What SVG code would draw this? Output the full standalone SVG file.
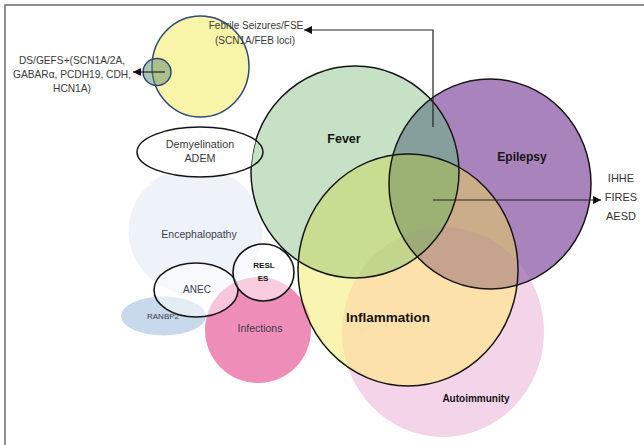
<svg xmlns="http://www.w3.org/2000/svg" width="644" height="445" viewBox="0 0 644 445">
<style>
text{font-family:"Liberation Sans",Arial,sans-serif;text-anchor:middle;fill:#3a3a3a}
.big{font-weight:bold;fill:#151515}
.ol{fill:none;stroke:#151515;stroke-width:1.5}
.conn{fill:none;stroke:#222;stroke-width:1.2}
</style>
<defs>
<marker id="ah" markerUnits="userSpaceOnUse" markerWidth="9" markerHeight="8" refX="8" refY="4" orient="auto">
<path d="M0,0 L8,4 L0,8 z" fill="#111"/>
</marker>
<clipPath id="cF"><ellipse cx="355" cy="172" rx="104" ry="106"/></clipPath>
<clipPath id="cE"><ellipse cx="490" cy="184" rx="101" ry="105"/></clipPath>
<clipPath id="cI"><ellipse cx="408" cy="270" rx="110" ry="116"/></clipPath>
<mask id="notF" maskUnits="userSpaceOnUse" x="0" y="0" width="644" height="445">
<rect x="0" y="0" width="644" height="445" fill="#fff"/>
<ellipse cx="355" cy="172" rx="104" ry="106" fill="#000"/>
</mask>
</defs>

<path d="M5,445 V5 H644" fill="none" stroke="#6a6a6a" stroke-width="1.5"/>

<g id="febrile-seizures">
<ellipse cx="200.5" cy="66.5" rx="48.5" ry="50.5" fill="#f8f4a8" stroke="#2e4a7a" stroke-width="1.5"/>
<text x="256" y="29" font-size="10">Febrile Seizures/FSE</text>
<text x="255" y="44" font-size="10">(SCN1A/FEB loci)</text>
</g>

<g id="ds-gefs">
<ellipse cx="157" cy="72" rx="14" ry="13.5" fill="#5f8c6e" fill-opacity="0.5" stroke="#2e4a7a" stroke-width="1.5"/>
<text x="72" y="64" font-size="10.2">DS/GEFS+(SCN1A/2A,</text>
<text x="72" y="78" font-size="10.2">GABARα, PCDH19, CDH,</text>
<text x="72" y="92" font-size="10.2">HCN1A)</text>
</g>

<g id="encephalopathy">
<ellipse cx="195.5" cy="231" rx="67" ry="64" fill="#eef2f9"/>
<text x="199" y="238" font-size="10.5" style="fill:#3c3c4c">Encephalopathy</text>
</g>

<g id="ranbp2">
<ellipse cx="163.5" cy="316" rx="42.5" ry="19.5" fill="#c9d9ec"/>
<text x="163" y="319" font-size="8" style="fill:#3c3c4c">RANBP2</text>
</g>

<g id="infections">
<circle cx="258" cy="330" r="53" fill="#ef8db9"/>
<text x="260" y="332" font-size="10.5" style="fill:#3c3c4c">Infections</text>
</g>

<g id="autoimmunity">
<ellipse cx="443" cy="332" rx="101" ry="105" fill="#f3d4e8"/>
<text x="476" y="402" font-size="10" class="big">Autoimmunity</text>
</g>

<g id="inflammation">
<ellipse cx="408" cy="270" rx="110" ry="116" fill="#f8f5b2"/>
<ellipse cx="443" cy="332" rx="101" ry="105" fill="#fce1aa" clip-path="url(#cI)"/>
<circle cx="258" cy="330" r="53" fill="#f4a98a" clip-path="url(#cI)"/>
<text x="388" y="322" font-size="13.5" class="big">Inflammation</text>
</g>

<g id="epilepsy">
<ellipse cx="490" cy="184" rx="101" ry="105" fill="#a983bc"/>
<ellipse cx="443" cy="332" rx="101" ry="105" fill="#b48bc0" clip-path="url(#cE)"/>
<ellipse cx="408" cy="270" rx="110" ry="116" fill="#cbae89" clip-path="url(#cE)"/>
<g clip-path="url(#cE)"><ellipse cx="443" cy="332" rx="101" ry="105" fill="#c6a38d" clip-path="url(#cI)"/></g>
<text x="522" y="161" font-size="12" class="big">Epilepsy</text>
</g>

<g id="fever">
<ellipse cx="355" cy="172" rx="104" ry="106" fill="#c6e1c5"/>
<ellipse cx="408" cy="270" rx="110" ry="116" fill="#c9dd90" clip-path="url(#cF)"/>
<g clip-path="url(#cF)"><ellipse cx="443" cy="332" rx="101" ry="105" fill="#c3d58c" clip-path="url(#cI)"/></g>
<ellipse cx="490" cy="184" rx="101" ry="105" fill="#869f9d" clip-path="url(#cF)"/>
<g clip-path="url(#cF)"><ellipse cx="408" cy="270" rx="110" ry="116" fill="#9cb274" clip-path="url(#cE)"/></g>
<g clip-path="url(#cF)"><g clip-path="url(#cE)"><ellipse cx="443" cy="332" rx="101" ry="105" fill="#9dab76" clip-path="url(#cI)"/></g></g>
<text x="344" y="143" font-size="12.5" class="big">Fever</text>
</g>

<g id="venn-outlines">
<ellipse class="ol" cx="355" cy="172" rx="104" ry="106"/>
<ellipse class="ol" cx="490" cy="184" rx="101" ry="105"/>
<ellipse class="ol" cx="408" cy="270" rx="110" ry="116"/>
</g>

<g id="demyelination">
<ellipse cx="200" cy="152" rx="63" ry="25" fill="#fff" mask="url(#notF)"/>
<ellipse cx="200" cy="152" rx="63" ry="25" class="ol"/>
<text x="200" y="148" font-size="10.8">Demyelination</text>
<text x="200" y="162" font-size="10.8">ADEM</text>
</g>

<g id="anec">
<ellipse cx="196" cy="290" rx="42" ry="27" fill="#fff" fill-opacity="0.5" stroke="#151515" stroke-width="1.6"/>
<text x="197" y="293" font-size="10" style="fill:#3c3c4c">ANEC</text>
</g>

<g id="resles">
<ellipse cx="263.5" cy="272.5" rx="30.5" ry="28.5" fill="#fff" fill-opacity="0.55" stroke="#151515" stroke-width="1.6"/>
<text x="264" y="268" font-size="8" class="big">RESL</text>
<text x="263" y="281" font-size="8" class="big">ES</text>
</g>

<g id="outcomes">
<text x="621" y="182" font-size="11" style="fill:#333">IHHE</text>
<text x="621" y="201" font-size="11" style="fill:#333">FIRES</text>
<text x="621" y="220" font-size="11" style="fill:#333">AESD</text>
</g>

<g id="connectors">
<path class="conn" d="M433,200 H601" marker-end="url(#ah)"/>
<path class="conn" d="M433,127 V30 H304" stroke="#555" stroke-width="1" marker-end="url(#ah)"/>
<path class="conn" d="M165,72 H133" marker-end="url(#ah)"/>
</g>
</svg>
